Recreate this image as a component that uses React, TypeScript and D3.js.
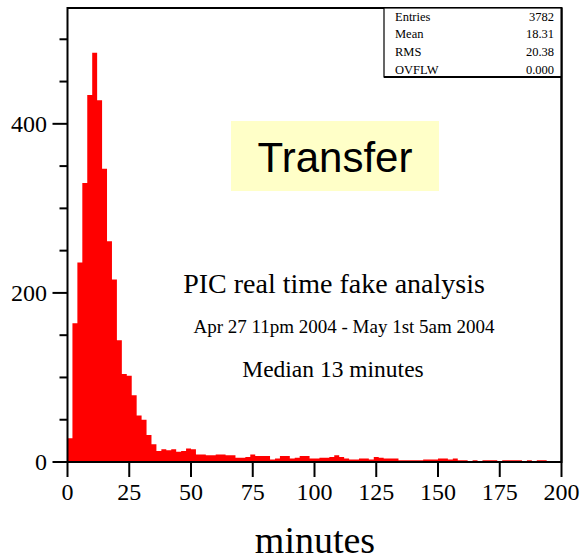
import { useEffect, useRef } from 'react';
import * as d3 from 'd3';

// histogram: 100 bins of 2 minutes from 0 to 200
const binWidth = 2;
const counts = [
  28, 164, 236, 330, 434, 484, 428, 347, 261, 216, 144, 104, 102, 79, 55, 50, 32, 21, 13,
  15, 14, 15, 12, 13, 16, 15, 9, 9, 8, 8, 9, 9, 8, 8, 5, 5, 6, 9, 7, 7, 7,
  3, 4, 7, 7, 4, 5, 7, 7, 4, 4, 5, 5, 6, 8, 6, 4, 3, 3, 4, 4, 3, 6, 5, 4,
  4, 4, 2, 2, 2, 2, 2, 3, 3, 3, 4, 4, 3, 4, 2, 2, 1, 2, 1, 2, 2, 2, 1, 2, 2, 2, 2, 1, 2, 1, 2, 2, 1, 1, 1,
];
const xTicks = [0, 25, 50, 75, 100, 125, 150, 175, 200];
const yMajorTicks = [0, 200, 400];
const yMinorTicks = [50, 100, 150, 250, 300, 350, 450, 500];
const statsLabels = ['Entries', 'Mean', 'RMS', 'OVFLW'];
const statsValues = ['3782', '18.31', '20.38', '0.000'];

const W = 583;
const H = 560;
const serif = '"Liberation Serif", "Times New Roman", serif';
const sans = '"Liberation Sans", Arial, sans-serif';

export default function App() {
  const ref = useRef<SVGSVGElement | null>(null);

  useEffect(() => {
    const svg = d3.select(ref.current);
    svg.selectAll('*').remove();

    const left = 67.5;
    const right = 561.5;
    const top = 8;
    const bottom = 462;

    const x = d3.scaleLinear().domain([0, 200]).range([left, right]);
    const y = d3.scaleLinear().domain([0, 537]).range([bottom, top]);

    // histogram as one step area
    const pts: [number, number][] = [];
    counts.forEach((c, i) => {
      pts.push([i * binWidth, c]);
      pts.push([(i + 1) * binWidth, c]);
    });
    const area = d3
      .area<[number, number]>()
      .x(d => x(d[0]))
      .y0(y(0))
      .y1(d => y(d[1]));
    svg.append('path').attr('d', area(pts)).attr('fill', '#ff0000');

    // frame
    svg
      .append('rect')
      .attr('x', left)
      .attr('y', top)
      .attr('width', right - left)
      .attr('height', bottom - top)
      .attr('fill', 'none')
      .attr('stroke', '#000')
      .attr('stroke-width', 2);

    // x axis ticks + labels
    const xg = svg.append('g');
    xg.selectAll('line')
      .data(xTicks)
      .enter()
      .append('line')
      .attr('x1', d => x(d))
      .attr('x2', d => x(d))
      .attr('y1', bottom)
      .attr('y2', bottom + 15)
      .attr('stroke', '#000')
      .attr('stroke-width', 2);
    xg.selectAll('text')
      .data(xTicks)
      .enter()
      .append('text')
      .attr('x', d => x(d))
      .attr('y', 500)
      .attr('text-anchor', 'middle')
      .attr('font-family', serif)
      .attr('font-size', 24)
      .text(d => d);

    // y axis ticks + labels
    const yg = svg.append('g');
    yg.selectAll('line.major')
      .data(yMajorTicks)
      .enter()
      .append('line')
      .attr('x1', left - 15)
      .attr('x2', left)
      .attr('y1', d => y(d))
      .attr('y2', d => y(d))
      .attr('stroke', '#000')
      .attr('stroke-width', 2);
    yg.selectAll('line.minor')
      .data(yMinorTicks)
      .enter()
      .append('line')
      .attr('x1', left - 8)
      .attr('x2', left)
      .attr('y1', d => y(d))
      .attr('y2', d => y(d))
      .attr('stroke', '#000')
      .attr('stroke-width', 2);
    yg.selectAll('text')
      .data(yMajorTicks)
      .enter()
      .append('text')
      .attr('x', 47)
      .attr('y', d => y(d) + 8)
      .attr('text-anchor', 'end')
      .attr('font-family', serif)
      .attr('font-size', 24)
      .text(d => d);

    svg
      .append('text')
      .attr('x', 315)
      .attr('y', 553)
      .attr('text-anchor', 'middle')
      .attr('font-family', serif)
      .attr('font-size', 38)
      .text('minutes');

    // stats box
    const box = svg.append('g');
    box
      .append('rect')
      .attr('x', 384)
      .attr('y', top)
      .attr('width', right - 384)
      .attr('height', 69)
      .attr('fill', '#fff')
      .attr('stroke', '#000')
      .attr('stroke-width', 1.2);
    box
      .append('line')
      .attr('x1', 384)
      .attr('x2', right)
      .attr('y1', 77)
      .attr('y2', 77)
      .attr('stroke', '#000')
      .attr('stroke-width', 2);
    statsLabels.forEach((l, i) => {
      const by = 20.5 + i * 17.8;
      box
        .append('text')
        .attr('x', 395)
        .attr('y', by)
        .attr('font-family', serif)
        .attr('font-size', 12.5)
        .text(l);
      box
        .append('text')
        .attr('x', 554)
        .attr('y', by)
        .attr('text-anchor', 'end')
        .attr('font-family', serif)
        .attr('font-size', 12.5)
        .text(statsValues[i]);
    });
    svg
      .append('line')
      .attr('x1', right)
      .attr('x2', right)
      .attr('y1', top)
      .attr('y2', bottom)
      .attr('stroke', '#000')
      .attr('stroke-width', 2);

    // title label
    svg
      .append('rect')
      .attr('x', 231)
      .attr('y', 121)
      .attr('width', 208)
      .attr('height', 70)
      .attr('fill', '#ffffc8');
    svg
      .append('text')
      .attr('x', 335)
      .attr('y', 172)
      .attr('text-anchor', 'middle')
      .attr('font-family', sans)
      .attr('font-size', 42)
      .text('Transfer');

    svg
      .append('text')
      .attr('x', 334)
      .attr('y', 293)
      .attr('text-anchor', 'middle')
      .attr('font-family', serif)
      .attr('font-size', 28)
      .text('PIC real time fake analysis');
    svg
      .append('text')
      .attr('x', 344)
      .attr('y', 333)
      .attr('text-anchor', 'middle')
      .attr('font-family', serif)
      .attr('font-size', 19)
      .text('Apr 27 11pm 2004 - May 1st 5am 2004');
    svg
      .append('text')
      .attr('x', 333)
      .attr('y', 377)
      .attr('text-anchor', 'middle')
      .attr('font-family', serif)
      .attr('font-size', 23.5)
      .text('Median 13 minutes');
  }, []);

  return (
    <svg
      ref={ref}
      width={W}
      height={H}
      style={{ position: 'absolute', left: 0, top: 0, background: '#fff' }}
    ></svg>
  );
}
